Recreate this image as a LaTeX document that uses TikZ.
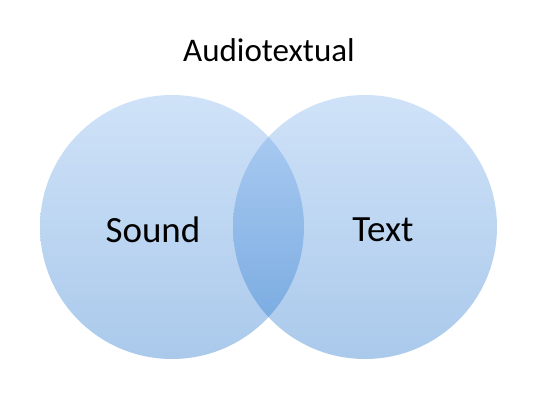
\documentclass[tikz,border=0pt]{standalone}
\usepackage{fontspec}
\setmainfont{Carlito}
\definecolor{VennTop}{RGB}{118,172,235}
\definecolor{VennBottom}{RGB}{12,101,198}

\begin{document}
\begin{tikzpicture}[
				x=1pt, y=-1pt,
				setcircle/.style={top color=VennTop, bottom color=VennBottom, fill opacity=0.35, draw=none},
				setlabel/.style={font=\fontsize{37}{40}\selectfont, text=black}
				]
				\useasboundingbox (0,0) rectangle (538,402);
				\pgfmathsetmacro{\SetRadius}{132}
				% the two sets
				\coordinate (SoundCenter) at (172,227);
				\coordinate (TextCenter) at (365,227);
				\shade[setcircle] (SoundCenter) circle (\SetRadius);
				\shade[setcircle] (TextCenter) circle (\SetRadius);
				% labels
				\node[setlabel] (SoundLabel) at (153,230) {Sound};
				\node[setlabel] (TextLabel) at (383,230) {Text};
				\node[font=\fontsize{33}{36}\selectfont] (TitleLabel) at (269,50) {Audiotextual};
			\end{tikzpicture}
\end{document}
